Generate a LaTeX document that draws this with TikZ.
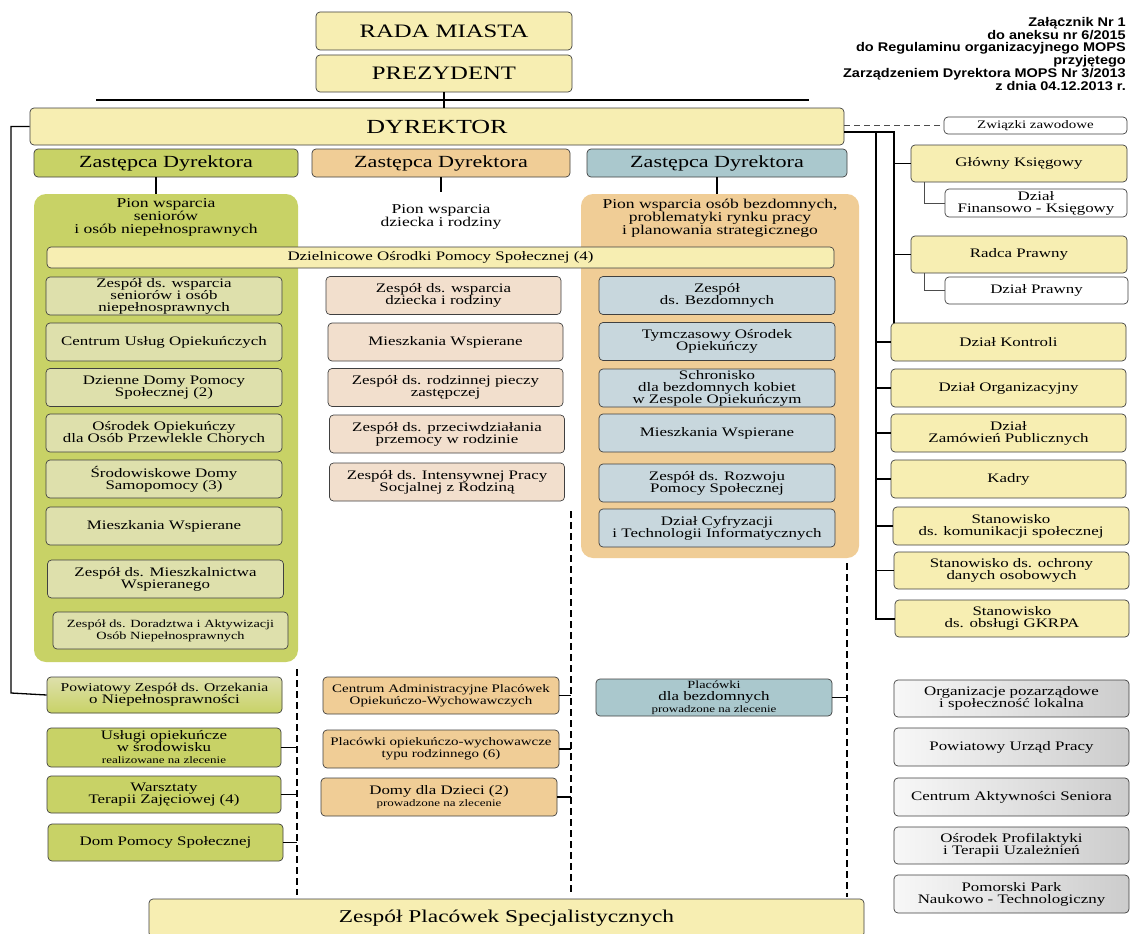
\documentclass[tikz,border=0pt]{standalone}
\usepackage{fontspec}
\setmainfont{Liberation Serif}[FakeStretch=1.3]
\newfontfamily\notefont{Liberation Sans}[FakeStretch=1.15]
\usepackage{xcolor}
\usepackage{tikz}
\usetikzlibrary{positioning, calc}

\definecolor{ylwfill}{RGB}{247,238,178}
\definecolor{grnpanel}{RGB}{200,210,102}
\definecolor{grnunit}{RGB}{222,224,172}
\definecolor{orgpanel}{RGB}{240,205,150}
\definecolor{orgunit}{RGB}{242,223,205}
\definecolor{blupanel}{RGB}{170,200,205}
\definecolor{bluunit}{RGB}{200,215,221}

\begin{document}
\begin{tikzpicture}[x=1pt, y=-1pt,
    unit/.style={rectangle, draw=black!75, line width=0.7pt, rounded corners=4pt, align=center, inner sep=1pt, font=\fontsize{13}{12}\selectfont},
    topbox/.style={unit, fill=ylwfill, font=\fontsize{19}{20}\selectfont},
    zast/.style={unit, minimum height=28pt, font=\fontsize{17}{18}\selectfont},
    panel/.style={rectangle, rounded corners=12pt, inner sep=0pt},
    piontext/.style={align=center, inner sep=0pt, font=\fontsize{13.5}{13}\selectfont},
    gunit/.style={unit, fill=grnunit, minimum width=236pt, minimum height=38pt},
    munit/.style={unit, fill=orgunit, minimum width=235pt, minimum height=38pt},
    bunit/.style={unit, fill=bluunit, minimum width=236pt, minimum height=38pt},
    rbox/.style={unit, fill=ylwfill, minimum width=235pt, minimum height=38pt},
    wbox/.style={unit, fill=white, minimum width=183pt},
    lowgreen/.style={unit, fill=grnpanel, minimum width=235pt, minimum height=38pt},
    loworange/.style={unit, fill=orgpanel, minimum width=236pt, minimum height=38pt, font=\fontsize{11.5}{12}\selectfont},
    partner/.style={unit, left color=black!3, right color=black!20, minimum width=235pt, minimum height=38pt},
    conn/.style={line width=1.3pt},
    thinconn/.style={line width=0.8pt, black!70},
    busline/.style={line width=2pt},
    dashline/.style={line width=1.8pt, dash pattern=on 7pt off 4pt}]

    \path[use as bounding box, fill=white] (0,0) rectangle (1130,934);

    % Top of the structure
    \node[topbox, minimum width=256pt, minimum height=38pt] (rada) at (444,31) {RADA MIASTA};
    \node[topbox, minimum width=256pt, minimum height=37pt] (prez) at (444,73.5) {PREZYDENT};
    \node[topbox, minimum width=814pt, minimum height=37pt, font=\fontsize{20}{20}\selectfont] (dyr) at (437,126.5) {DYREKTOR};

    % Annex note
    \node[anchor=north east, align=right, inner sep=0pt, font=\notefont\bfseries\fontsize{12.6}{12.8}\selectfont] (annex) at (1126,17)
        {Załącznik Nr 1\\ do aneksu nr 6/2015\\ do Regulaminu organizacyjnego MOPS\\ przyjętego\\ Zarządzeniem Dyrektora MOPS Nr 3/2013\\ z dnia 04.12.2013 r.};

    % Deputies
    \node[zast, fill=grnpanel, minimum width=264pt] (zgreen) at (166,163) {Zastępca Dyrektora};
    \node[zast, fill=orgpanel, minimum width=258pt] (zorange) at (441,163) {Zastępca Dyrektora};
    \node[zast, fill=blupanel, minimum width=260pt] (zblue) at (717,163) {Zastępca Dyrektora};

    % Divisions
    \node[panel, fill=grnpanel, minimum width=264pt, minimum height=468pt] (pion1) at (166,428) {};
    \node[piontext, below=5pt of pion1.north] (pion1t) {Pion wsparcia\\ seniorów\\ i osób niepełnosprawnych};
    \node[piontext, inner ysep=12pt] (pion2) at (441,217) {Pion wsparcia\\ dziecka i rodziny};
    \node[panel, fill=orgpanel, minimum width=278pt, minimum height=364pt] (pion3) at (720,376) {};
    \node[piontext, below=5pt of pion3.north] (pion3t) {Pion wsparcia osób bezdomnych,\\ problematyki rynku pracy\\ i planowania strategicznego};

    % District centres bar
    \node[unit, fill=ylwfill, minimum width=787pt, minimum height=21pt] (dosp) at (440.5,257.5) {Dzielnicowe Ośrodki Pomocy Społecznej (4)};

    % Seniors column
    \node[gunit] (g1) at (164,296) {Zespół ds. wsparcia\\ seniorów i osób\\ niepełnosprawnych};
    \node[gunit] (g2) at (164,342) {Centrum Usług Opiekuńczych};
    \node[gunit] (g3) at (164,387.5) {Dzienne Domy Pomocy\\ Społecznej (2)};
    \node[gunit] (g4) at (164,433) {Ośrodek Opiekuńczy\\ dla Osób Przewlekle Chorych};
    \node[gunit] (g5) at (164,479) {Środowiskowe Domy\\ Samopomocy (3)};
    \node[gunit] (g6) at (164,526) {Mieszkania Wspierane};
    \node[gunit] (g7) at (165.5,579) {Zespół ds. Mieszkalnictwa\\ Wspieranego};
    \node[gunit, minimum width=235pt, minimum height=37pt, font=\fontsize{11}{12}\selectfont] (g8) at (170.5,630.5) {Zespół ds. Doradztwa i Aktywizacji\\ Osób Niepełnosprawnych};

    % Family column
    \node[munit] (m1) at (443.5,295.5) {Zespół ds. wsparcia\\ dziecka i rodziny};
    \node[munit] (m2) at (445.5,342) {Mieszkania Wspierane};
    \node[munit] (m3) at (445.5,387.5) {Zespół ds. rodzinnej pieczy\\ zastępczej};
    \node[munit] (m4) at (447,434) {Zespół ds. przeciwdziałania\\ przemocy w rodzinie};
    \node[munit] (m5) at (447,482) {Zespół ds. Intensywnej Pracy\\ Socjalnej z Rodziną};

    % Homeless column
    \node[bunit] (b1) at (717,295.5) {Zespół\\ ds. Bezdomnych};
    \node[bunit] (b2) at (717,341.5) {Tymczasowy Ośrodek\\ Opiekuńczy};
    \node[bunit] (b3) at (717,388) {Schronisko\\ dla bezdomnych kobiet\\ w Zespole Opiekuńczym};
    \node[bunit] (b4) at (717,433) {Mieszkania Wspierane};
    \node[bunit] (b5) at (717,483) {Zespół ds. Rozwoju\\ Pomocy Społecznej};
    \node[bunit] (b6) at (717,528) {Dział Cyfryzacji\\ i Technologii Informatycznych};

    % Units reporting to the director
    \node[wbox, minimum height=17pt, minimum width=183pt, font=\fontsize{11.5}{12}\selectfont] (zwiazki) at (1035.5,125.5) {Związki zawodowe};
    \node[rbox, minimum width=216pt, minimum height=37pt] (glowny) at (1019,163.5) {Główny Księgowy};
    \node[wbox, minimum width=182pt, minimum height=28pt] (finks) at (1036,203) {Dział\\ Finansowo - Księgowy};
    \node[rbox, minimum width=216pt, minimum height=37pt] (radca) at (1019,254.5) {Radca Prawny};
    \node[wbox, minimum height=27pt] (prawny) at (1036.5,290.5) {Dział Prawny};
    \node[rbox] (kontrola) at (1008.5,342) {Dział Kontroli};
    \node[rbox] (organiz) at (1008.5,388) {Dział Organizacyjny};
    \node[rbox] (zamow) at (1008.5,433) {Dział\\ Zamówień Publicznych};
    \node[rbox] (kadry) at (1008.5,479) {Kadry};
    \node[rbox, minimum width=236pt] (komun) at (1011,526) {Stanowisko\\ ds. komunikacji społecznej};
    \node[rbox, minimum height=37pt] (ochrona) at (1011.5,570.5) {Stanowisko ds. ochrony\\ danych osobowych};
    \node[rbox, minimum width=234pt, minimum height=37pt] (gkrpa) at (1012,618.5) {Stanowisko\\ ds. obsługi GKRPA};

    % Lower units
    \node[lowgreen, top color=grnunit, bottom color=grnpanel, minimum height=36pt] (pzo) at (164.5,695) {{\fontsize{12}{12}\selectfont Powiatowy Zespół ds. Orzekania}\\ o Niepełnosprawności};
    \node[lowgreen, minimum width=234pt, minimum height=39pt] (uslugi) at (164,747.5) {Usługi opiekuńcze\\ w środowisku\\ {\fontsize{10}{10}\selectfont realizowane na zlecenie}};
    \node[lowgreen, minimum width=234pt, minimum height=37pt] (warsztaty) at (164,794.5) {Warsztaty\\ Terapii Zajęciowej (4)};
    \node[lowgreen, minimum height=37pt] (dps) at (165.5,842.5) {Dom Pomocy Społecznej};

    \node[loworange, minimum height=37pt] (cap) at (441,695.5) {Centrum Administracyjne Placówek\\ Opiekuńczo-Wychowawczych};
    \node[loworange] (placowki) at (441,749) {Placówki opiekuńczo-wychowawcze\\ typu rodzinnego (6)};
    \node[loworange, font=\fontsize{13}{12}\selectfont] (domy) at (439,797) {Domy dla Dzieci (2)\\ {\fontsize{10}{10}\selectfont prowadzone na zlecenie}};

    \node[unit, fill=blupanel, minimum width=236pt, minimum height=37pt] (bezd) at (714,697.5) {{\fontsize{11}{11}\selectfont Placówki}\\ dla bezdomnych\\ {\fontsize{10}{10}\selectfont prowadzone na zlecenie}};

    % Partners
    \node[partner, minimum height=37pt] (ngo) at (1011.5,698.5) {Organizacje pozarządowe\\ i społeczność lokalna};
    \node[partner] (pup) at (1011.5,747) {Powiatowy Urząd Pracy};
    \node[partner] (cas) at (1011.5,797) {Centrum Aktywności Seniora};
    \node[partner, minimum height=37pt] (opt) at (1011.5,845.5) {Ośrodek Profilaktyki\\ i Terapii Uzależnień};
    \node[partner] (ppnt) at (1011.5,894) {Pomorski Park\\ Naukowo - Technologiczny};

    % Specialist facilities
    \node[unit, fill=ylwfill, minimum width=715pt, minimum height=38pt, font=\fontsize{18}{18}\selectfont] (zps) at (506.5,918) {Zespół Placówek Specjalistycznych};

    % Helper points
    \coordinate (barL) at (96,100);
    \coordinate (barR) at (809,100);
    \coordinate (lbus) at (11,693);
    \coordinate (busA) at (876,131.5);
    \coordinate (busB) at (894,131.5);
    \coordinate (dA1) at (297,669);
    \coordinate (dA2) at (297,895);
    \coordinate (dB1) at (571,511);
    \coordinate (dB2) at (571,895);
    \coordinate (dC1) at (847,563);
    \coordinate (dC2) at (847,897);

    % Top connections
    \draw[conn] (barL) -- (barR);
    \draw[conn] (prez.south) -- (prez.south |- dyr.north);
    \draw[conn] (dyr.west) -| (lbus) -- (pzo.west);
    \draw[conn] ([xshift=-10pt]zgreen.south) -- ([xshift=-10pt]zgreen.south |- pion1.north);
    \draw[conn] (zorange.south) -- (pion2.north);
    \draw[conn] (zblue.south) -- (zblue.south |- pion3.north);

    % Right side connections
    \draw[thinconn, dashed, dash pattern=on 6pt off 4pt] (zwiazki.west -| dyr.east) -- (zwiazki.west);
    \draw[busline] ([yshift=-5pt]dyr.east) -- (busB) -- (busB |- kontrola.north);
    \draw[busline] (busA) |- (gkrpa.west);
    \draw[conn] (glowny.west) -- (glowny.west -| busB);
    \draw[conn] (radca.west) -- (radca.west -| busB);
    \draw[thinconn] (finks.west) -| ([xshift=14pt]glowny.south west);
    \draw[thinconn] (prawny.west) -| ([xshift=14pt]radca.south west);
    \draw[conn] (kontrola.west) -- (kontrola.west -| busA);
    \draw[conn] (organiz.west) -- (organiz.west -| busA);
    \draw[conn] (zamow.west) -- (zamow.west -| busA);
    \draw[conn] (kadry.west) -- (kadry.west -| busA);
    \draw[conn] (komun.west) -- (komun.west -| busA);
    \draw[conn] (ochrona.west) -- (ochrona.west -| busA);

    % Dashed lines to lower units
    \draw[dashline] (dA1) -- (dA2);
    \draw[dashline] (dB1) -- (dB2);
    \draw[dashline] (dC1) -- (dC2);
    \draw[conn] (uslugi.east) -- (uslugi.east -| dA1);
    \draw[conn] (warsztaty.east) -- (warsztaty.east -| dA1);
    \draw[conn] (dps.east) -- (dps.east -| dA1);
    \draw[conn] (cap.east) -- (cap.east -| dB1);
    \draw[conn] (placowki.east) -- (placowki.east -| dB1);
    \draw[conn] (domy.east) -- (domy.east -| dB1);
    \draw[conn] (bezd.east) -- (bezd.east -| dC1);

\end{tikzpicture}
\end{document}
